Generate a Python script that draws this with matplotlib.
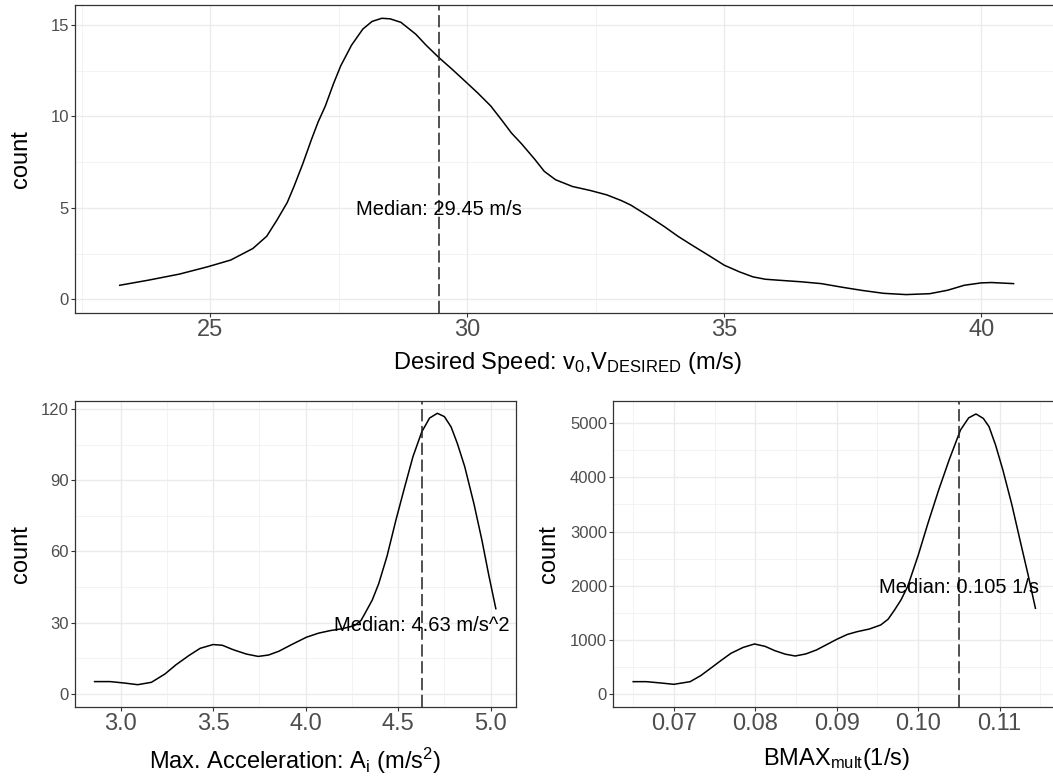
import numpy as np
import matplotlib
matplotlib.use("Agg")
import matplotlib.pyplot as plt
from matplotlib.ticker import FixedLocator, FormatStrFormatter

plt.rcParams['font.family'] = ['Liberation Sans', 'DejaVu Sans']
plt.rcParams['mathtext.fontset'] = 'custom'
plt.rcParams['mathtext.rm'] = 'Liberation Sans'
plt.rcParams['mathtext.it'] = 'Liberation Sans'

# ---- data ----
speed_x = [23.24, 23.8, 24.4, 24.95, 25.4, 25.83, 26.1, 26.3, 26.5, 26.63, 26.8, 26.97,
           27.1, 27.24, 27.4, 27.54, 27.75, 27.97, 28.15, 28.34, 28.5, 28.71, 29.0, 29.2,
           29.45, 29.7, 29.92, 30.2, 30.46, 30.7, 30.86, 31.06, 31.32, 31.5, 31.72, 32.05,
           32.4, 32.72, 33.0, 33.18, 33.5, 33.84, 34.1, 34.37, 34.7, 35.0, 35.3, 35.56,
           35.8, 36.09, 36.5, 36.89, 37.3, 37.68, 38.1, 38.54, 39.0, 39.35, 39.67, 40.0,
           40.2, 40.63]
speed_count = [0.77, 1.05, 1.38, 1.78, 2.15, 2.78, 3.45, 4.34, 5.3, 6.17, 7.4, 8.74,
               9.7, 10.57, 11.8, 12.77, 13.9, 14.78, 15.2, 15.37, 15.34, 15.15, 14.5, 13.9,
               13.22, 12.6, 12.03, 11.3, 10.57, 9.7, 9.1, 8.5, 7.64, 7.0, 6.54, 6.17,
               5.95, 5.71, 5.4, 5.16, 4.6, 3.97, 3.45, 2.97, 2.4, 1.87, 1.5, 1.23,
               1.1, 1.04, 0.96, 0.86, 0.66, 0.49, 0.33, 0.26, 0.31, 0.5, 0.77, 0.9,
               0.92, 0.86]
speed_median = 29.45

acc_x = [2.86, 2.944, 3.02, 3.093, 3.167, 3.24, 3.30, 3.37, 3.43, 3.50, 3.55, 3.61,
         3.68, 3.744, 3.80, 3.856, 3.93, 4.005, 4.07, 4.135, 4.20, 4.265, 4.30, 4.32,
         4.36, 4.395, 4.44, 4.488, 4.535, 4.58, 4.628, 4.67, 4.712, 4.75, 4.786, 4.82,
         4.86, 4.91, 4.953, 4.99, 5.028]
acc_count = [5.2, 5.2, 4.6, 3.9, 4.9, 8.4, 12.3, 16.2, 19.2, 20.8, 20.5, 18.6,
             16.8, 15.8, 16.4, 18.0, 21.0, 23.9, 25.6, 26.7, 27.5, 28.8, 31.0, 33.8,
             39.5, 46.4, 58.0, 73.2, 87.0, 99.9, 110.4, 116.2, 118.2, 116.8, 112.5, 105.5,
             95.7, 80.0, 64.7, 50.0, 35.9]
acc_median = 4.63

bmax_x = [0.0650, 0.0666, 0.0683, 0.0700, 0.0720, 0.0733, 0.0745, 0.0758, 0.0770, 0.0785,
          0.0799, 0.0812, 0.0824, 0.0837, 0.0849, 0.0862, 0.0875, 0.0888, 0.0900, 0.0913,
          0.0925, 0.0940, 0.0954, 0.0963, 0.0971, 0.0979, 0.0987, 0.1000, 0.1012, 0.1025,
          0.1038, 0.1052, 0.1062, 0.1071, 0.1080, 0.1087, 0.1095, 0.1104, 0.1115, 0.1125,
          0.1135, 0.1144]
bmax_count = [228, 228, 205, 179, 228, 340, 474, 620, 751, 860,
              924, 880, 800, 735, 702, 740, 813, 915, 1010, 1100,
              1151, 1200, 1275, 1380, 1552, 1740, 1983, 2560, 3153, 3760,
              4323, 4877, 5100, 5172, 5090, 4938, 4600, 4138, 3500, 2845,
              2200, 1583]
bmax_median = 0.105

speed_xticks = [25, 30, 35, 40]
speed_yticks = [0, 5, 10, 15]
acc_xticks = [3.0, 3.5, 4.0, 4.5, 5.0]
acc_yticks = [0, 30, 60, 90, 120]
bmax_xticks = [0.07, 0.08, 0.09, 0.10, 0.11]
bmax_yticks = [0, 1000, 2000, 3000, 4000, 5000]

W, H = 1053, 780
fig = plt.figure(figsize=(W / 100, H / 100), dpi=100)


def add_panel(left, right, top, bottom):
    return fig.add_axes([left / W, 1 - bottom / H, (right - left) / W, (bottom - top) / H])


def style(ax, xticks, yticks, xminor, yminor, xfmt, xlim, ylim):
    ax.set_xlim(*xlim)
    ax.set_ylim(*ylim)
    ax.xaxis.set_major_locator(FixedLocator(xticks))
    ax.yaxis.set_major_locator(FixedLocator(yticks))
    ax.xaxis.set_minor_locator(FixedLocator(xminor))
    ax.yaxis.set_minor_locator(FixedLocator(yminor))
    ax.xaxis.set_major_formatter(FormatStrFormatter(xfmt))
    ax.yaxis.set_major_formatter(FormatStrFormatter('%d'))
    ax.grid(which='major', color='#EBEBEB', linewidth=1.0)
    ax.grid(which='minor', color='#F0F0F0', linewidth=0.55)
    ax.set_axisbelow(True)
    for s in ax.spines.values():
        s.set_color('#333333')
        s.set_linewidth(0.9)
    ax.tick_params(which='major', length=3, width=0.8, color='#333333',
                   labelcolor='#4D4D4D', pad=1.5)
    ax.tick_params(axis='x', labelsize=17)
    ax.tick_params(axis='y', labelsize=12)
    ax.tick_params(which='minor', length=0)


def density(ax, x, y, med, text, ty):
    ax.plot(x, y, color='black', linewidth=1.1, solid_joinstyle='round')
    ln = ax.axvline(med, color='#222222', linewidth=1.1)
    ln.set_dashes([8, 3])
    ax.text(med, ty, text, ha='center', va='center', fontsize=14.5, color='black')


def labels(ax, left, right, top, bottom, xlabel, base_px, ylab_px):
    ax.set_xlabel(xlabel, fontsize=17, va='baseline')
    ax.xaxis.set_label_coords(0.5, -(base_px - bottom) / (bottom - top))
    ax.set_ylabel('count', fontsize=17, va='center')
    ax.yaxis.set_label_coords((ylab_px - left) / (right - left), 0.5)


# top panel (right border lies just outside the picture)
L, R, T, B = 75, 1060, 5.3, 312.7
ax1 = add_panel(L, R, T, B)
style(ax1, speed_xticks, speed_yticks, [22.5, 27.5, 32.5, 37.5], [2.5, 7.5, 12.5],
      '%d', (22.37, 22.37 + (R - L) / 51.4), (-0.73, 16.08))
density(ax1, speed_x, speed_count, speed_median, 'Median: 29.45 m/s', 4.9)
labels(ax1, L, R, T, B, r'Desired Speed: $\mathregular{v_0}$,$\mathregular{V_{DESIRED}}$ (m/s)',
       369, 21)

# bottom left
L, R, T, B = 75, 516, 400.7, 707
ax2 = add_panel(L, R, T, B)
style(ax2, acc_xticks, acc_yticks, [3.25, 3.75, 4.25, 4.75], [15, 45, 75, 105],
      '%.1f', (2.754, 5.137), (-5.5, 123.5))
density(ax2, acc_x, acc_count, acc_median, 'Median: 4.63 m/s^2', 28.8)
labels(ax2, L, R, T, B, r'Max. Acceleration: $\mathregular{A_i}$ (m/s$\mathregular{^2}$)',
       769, 21)

# bottom right
L, R, T, B = 613.3, 1060, 400.7, 707
ax3 = add_panel(L, R, T, B)
style(ax3, bmax_xticks, bmax_yticks,
      [0.065, 0.075, 0.085, 0.095, 0.105, 0.115], [500, 1500, 2500, 3500, 4500],
      '%.2f', (0.06256, 0.06256 + (R - L) / 8143), (-240, 5417))
density(ax3, bmax_x, bmax_count, bmax_median, 'Median: 0.105 1/s', 1970)
labels(ax3, L, R, T, B, r'BMAX$\mathregular{_{mult}}$(1/s)', 765, 549)

fig.savefig('out.png', dpi=100)
